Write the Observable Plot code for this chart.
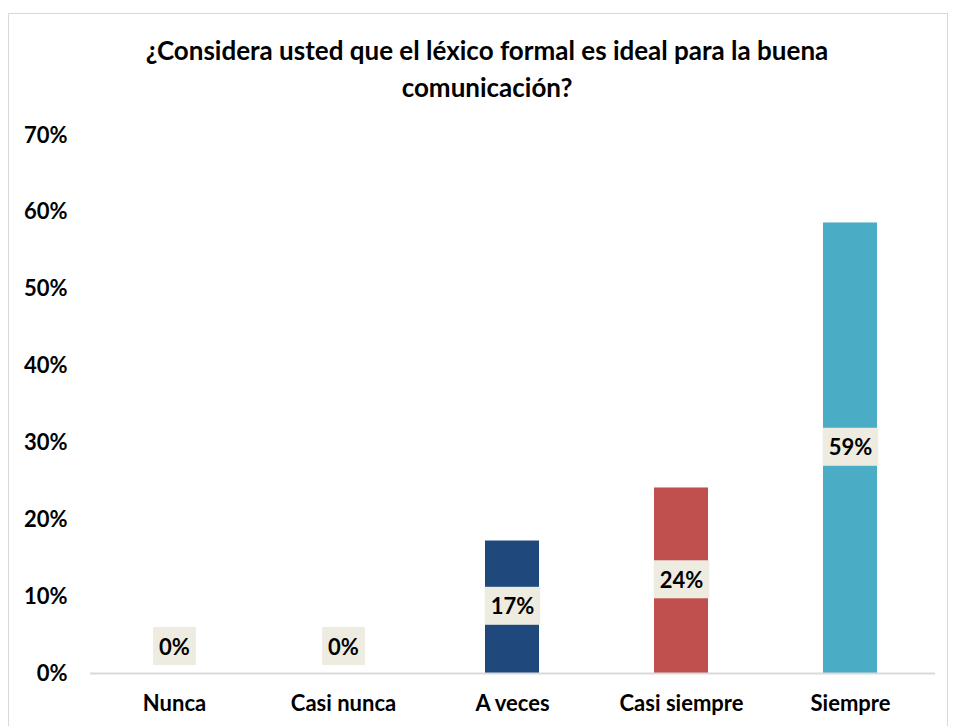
<!DOCTYPE html>
<html>
<head>
<meta charset="utf-8">
<script src="https://cdn.jsdelivr.net/npm/d3@7"></script>
<script src="https://cdn.jsdelivr.net/npm/@observablehq/plot@0.6"></script>
<style>
  body { margin: 0; background: #fff; font-family: Lato, "Open Sans", sans-serif; }
  #frame { position: absolute; left: 8px; top: 13px; width: 938px; height: 730px; border: 1px solid #d9d9d9; }
  #title { position: absolute; left: 20px; top: 32px; width: 934px; text-align: center; font-size: 26px; font-weight: bold; line-height: 37px; color: #000; }
  #chart { position: absolute; left: 0; top: 106px; }
</style>
</head>
<body>
<div id="frame"></div>
<div id="title">¿Considera usted que el léxico formal es ideal para la buena<br>comunicación?</div>
<div id="chart"></div>
<script>
const categories = ["Nunca", "Casi nunca", "A veces", "Casi siempre", "Siempre"];
const values = [0, 0, 0.1724, 0.2414, 0.5862];
const labels = ["0%", "0%", "17%", "24%", "59%"];
const colors = ["#4F81BD", "#8064A2", "#1F497D", "#C0504D", "#4BACC6"];
const yTicks = [0, 0.1, 0.2, 0.3, 0.4, 0.5, 0.6, 0.7];

const table = categories.map((c, i) => ({category: c, value: values[i], label: labels[i], color: colors[i]}));

const chart = Plot.plot({
  width: 953,
  height: 620,
  marginTop: 29,
  marginBottom: 53,
  marginLeft: 90,
  marginRight: 18,
  style: {fontFamily: "Lato, 'Open Sans', sans-serif", fontSize: "22px", fontWeight: "bold", color: "#000", background: "transparent"},
  x: {domain: categories, paddingInner: 0.68, paddingOuter: 0.34, tickSize: 0, tickPadding: 22, label: null},
  y: {domain: [0, 0.7], ticks: yTicks, tickFormat: d => Math.round(d * 100) + "%", tickSize: 0, tickPadding: 23, label: null},
  color: {type: "identity"},
  marks: [
    Plot.barY(table, {x: "category", y: "value", fill: "color"}),
    Plot.ruleY([0], {stroke: "#d9d9d9", strokeWidth: 2}),
    Plot.text(table.filter(d => d.value > 0), {x: "category", y: d => d.value / 2, text: "label", fill: "#000", fontWeight: "bold", fontSize: 22}),
    Plot.text(table.filter(d => d.value === 0), {x: "category", y: "value", dy: -26, text: "label", fill: "#000", fontWeight: "bold", fontSize: 22})
  ]
});
document.getElementById("chart").appendChild(chart);

// add label backgrounds behind data labels
const svg = document.querySelector("#chart svg");
svg.querySelectorAll('g[aria-label="text"] text').forEach(t => {
  const b = t.getBBox();
  const padX = 6, h = 38;
  const r = document.createElementNS("http://www.w3.org/2000/svg", "rect");
  r.setAttribute("x", b.x - padX);
  r.setAttribute("y", b.y + b.height / 2 - h / 2);
  r.setAttribute("width", b.width + 2 * padX);
  r.setAttribute("height", h);
  r.setAttribute("fill", "#EEECE1");
  if (t.getAttribute("transform")) r.setAttribute("transform", t.getAttribute("transform"));
  t.parentNode.insertBefore(r, t);
});
</script>
</body>
</html>
